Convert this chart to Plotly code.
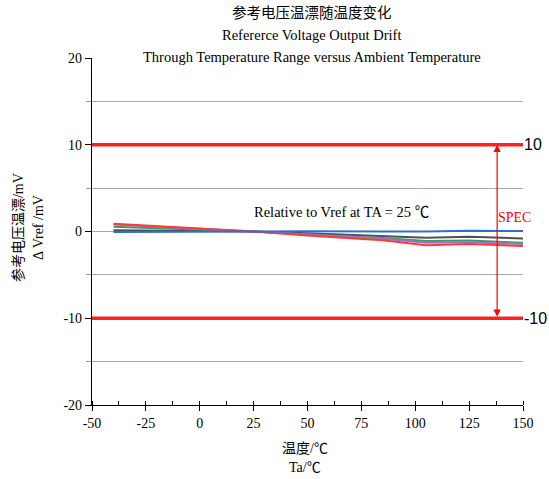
import plotly.graph_objects as go

# ---- data ----
temps = [-40, 0, 25, 50, 85, 105, 125, 150]
blue = [-0.05, 0.0, 0.0, 0.02, 0.0, 0.0, 0.1, 0.05]
gray = [0.15, 0.1, 0.0, -0.2, -0.5, -0.72, -0.6, -0.8]
green = [0.55, 0.25, 0.0, -0.35, -0.75, -1.1, -1.05, -1.3]
purple = [0.8, 0.35, 0.0, -0.35, -0.85, -1.3, -1.25, -1.45]
red = [0.9, 0.35, 0.0, -0.45, -1.0, -1.58, -1.45, -1.67]
spec_limits = [10, -10]
spec_labels = ["10", "-10"]
x_range = [-50, 150]
y_range = [-20, 20]
x_ticks = [-50, -25, 0, 25, 50, 75, 100, 125, 150]
x_ticktext = ["-50", "-25", "0", "25", "50", "75", "100", "125", "150"]
y_ticks = [-20, -10, 0, 10, 20]
y_ticktext = ["-20", "-10", "0", "10", "20"]
y_grid = [-15, -5, 0, 5, 15]
arrow_x = 138

SERIF = "Liberation Serif, Times New Roman, Noto Sans CJK SC"

fig = go.Figure()

series = [
    (gray, "#505050"),
    (green, "#3c9a5c"),
    (purple, "#a070d0"),
    (red, "#ff3838"),
    (blue, "#2a6fd6"),
]
for vals, col in series:
    fig.add_trace(go.Scatter(x=temps, y=vals, mode="lines",
                             line=dict(color=col, width=2), showlegend=False,
                             hoverinfo="skip"))

for lim, lab in zip(spec_limits, spec_labels):
    fig.add_trace(go.Scatter(x=x_range, y=[lim, lim], mode="lines",
                             line=dict(color="#ff2020", width=3.5),
                             showlegend=False, hoverinfo="skip"))
    fig.add_annotation(x=x_range[1], y=lim, text=lab, showarrow=False,
                       xanchor="left", xshift=-1,
                       font=dict(family="Liberation Sans, Arial", size=16, color="black"))

# SPEC double arrow
fig.add_annotation(x=arrow_x, y=spec_limits[0], ax=arrow_x, ay=spec_limits[1],
                   xref="x", yref="y", axref="x", ayref="y", text="",
                   showarrow=True, arrowside="end+start", arrowhead=2,
                   arrowsize=1.2, arrowwidth=1.2, arrowcolor="red",
                   standoff=0, startstandoff=0)
fig.add_annotation(x=arrow_x, y=1.6, text="SPEC", showarrow=False,
                   xanchor="left", xshift=-1,
                   font=dict(family=SERIF, size=14, color="red"))

fig.add_annotation(x=66, y=2.2, text="Relative to Vref at TA = 25 ℃",
                   showarrow=False, font=dict(family=SERIF, size=14.5, color="black"))

# titles
titles = ["参考电压温漂随温度变化", "Refererce Voltage Output Drift",
          "Through Temperature Range versus Ambient Temperature"]
for i, t in enumerate(titles):
    fig.add_annotation(xref="paper", yref="paper", x=0.51, y=1,
                       yshift=45 - i * 22, yanchor="middle", text=t,
                       showarrow=False, font=dict(family=SERIF, size=14.5, color="black"))

# y axis titles
for i, t in enumerate(["参考电压温漂/mV", "Δ Vref /mV"]):
    fig.add_annotation(xref="paper", yref="paper", x=0, xshift=-74 + i * 20,
                       xanchor="center", yanchor="middle",
                       y=0.51, text=t, textangle=-90, showarrow=False,
                       font=dict(family=SERIF, size=14, color="black"))

# x axis titles
for i, t in enumerate(["温度/℃", "Ta/℃"]):
    fig.add_annotation(xref="paper", yref="paper", x=0.494, y=0,
                       yshift=-43 - i * 19, yanchor="middle", text=t,
                       showarrow=False,
                       font=dict(family=SERIF, size=14, color="black"))

fig.update_layout(
    width=549, height=479,
    margin=dict(l=92, r=26, t=58, b=74),
    paper_bgcolor="white", plot_bgcolor="white",
    font=dict(family=SERIF, size=14, color="black"),
    xaxis=dict(range=x_range, tickmode="array", tickvals=x_ticks,
               ticktext=x_ticktext,
               showgrid=False, zeroline=False, showline=True,
               linecolor="black", linewidth=1.2, ticks="outside", ticklen=5,
               tickcolor="black",
               minor=dict(dtick=12.5, ticks="inside", ticklen=4, tickcolor="black")),
    yaxis=dict(range=y_range, tickmode="array", tickvals=y_ticks,
               ticktext=y_ticktext,
               showgrid=False, zeroline=False, showline=True,
               linecolor="black", linewidth=1.2, ticks="outside", ticklen=6,
               tickcolor="black",
               minor=dict(tickvals=y_grid, showgrid=True, gridcolor="#a8a8a8",
                          gridwidth=1, ticks="outside", ticklen=5,
                          tickcolor="#999999")),
)

fig.write_html("out.html")
